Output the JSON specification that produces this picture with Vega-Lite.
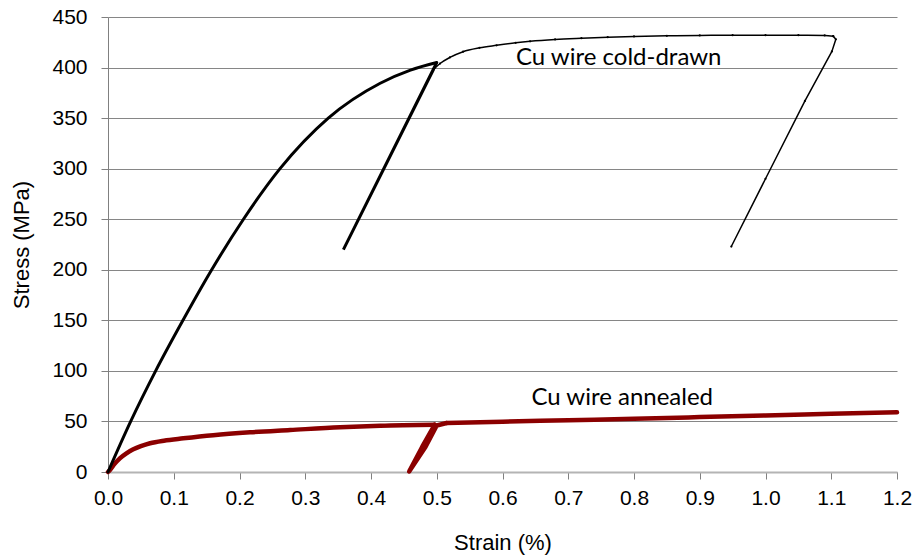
{
  "$schema": "https://vega.github.io/schema/vega-lite/v6.json",
  "width": 789,
  "height": 455,
  "autosize": {"type": "none"},
  "padding": {"left": 108, "top": 17, "right": 18, "bottom": 87},
  "background": "white",
  "config": {
    "view": {"stroke": null},
    "font": "Liberation Sans"
  },
  "datasets": {
    "annealedLoad": [
      {"strain": 0, "stress": 0},
      {"strain": 0.003, "stress": 2},
      {"strain": 0.01, "stress": 8},
      {"strain": 0.018, "stress": 13.5},
      {"strain": 0.028, "stress": 18.5},
      {"strain": 0.0385, "stress": 22.4},
      {"strain": 0.05, "stress": 25.5},
      {"strain": 0.064, "stress": 28.4},
      {"strain": 0.085, "stress": 31},
      {"strain": 0.1146, "stress": 33.3},
      {"strain": 0.16, "stress": 36.4},
      {"strain": 0.216, "stress": 39.2},
      {"strain": 0.277, "stress": 41.5},
      {"strain": 0.353, "stress": 44.3},
      {"strain": 0.414, "stress": 45.8},
      {"strain": 0.497, "stress": 46.8}
    ],
    "annealedLoop": [
      {"o": 1, "strain": 0.497, "stress": 46.8},
      {"o": 2, "strain": 0.478, "stress": 25},
      {"o": 3, "strain": 0.458, "stress": 0.5},
      {"o": 4, "strain": 0.483, "stress": 25},
      {"o": 5, "strain": 0.5, "stress": 46},
      {"o": 6, "strain": 0.515, "stress": 48.5}
    ],
    "annealedRest": [
      {"strain": 0.515, "stress": 48.5},
      {"strain": 0.6, "stress": 49.8},
      {"strain": 0.7, "stress": 51.2},
      {"strain": 0.8, "stress": 52.6},
      {"strain": 0.9, "stress": 54.3},
      {"strain": 1.0, "stress": 56},
      {"strain": 1.1, "stress": 57.5},
      {"strain": 1.2, "stress": 59}
    ],
    "coldLoad": [
      {"strain": 0, "stress": 0},
      {"strain": 0.0345, "stress": 50},
      {"strain": 0.0725, "stress": 100},
      {"strain": 0.114, "stress": 150},
      {"strain": 0.1577, "stress": 200},
      {"strain": 0.206, "stress": 250},
      {"strain": 0.2616, "stress": 300},
      {"strain": 0.335, "stress": 350},
      {"strain": 0.414, "stress": 384.5},
      {"strain": 0.46, "stress": 397.5},
      {"strain": 0.5, "stress": 405}
    ],
    "coldUnload": [
      {"o": 1, "strain": 0.5, "stress": 405},
      {"o": 2, "strain": 0.358, "stress": 220},
      {"o": 3, "strain": 0.495, "stress": 398}
    ],
    "coldPlateau": [
      {"strain": 0.495, "stress": 398},
      {"strain": 0.505, "stress": 404},
      {"strain": 0.52, "stress": 410},
      {"strain": 0.54, "stress": 415.7},
      {"strain": 0.565, "stress": 419.5},
      {"strain": 0.591, "stress": 422},
      {"strain": 0.62, "stress": 424.5},
      {"strain": 0.642, "stress": 426},
      {"strain": 0.68, "stress": 427.8},
      {"strain": 0.72, "stress": 429},
      {"strain": 0.76, "stress": 430},
      {"strain": 0.8, "stress": 430.8},
      {"strain": 0.85, "stress": 431.4},
      {"strain": 0.9, "stress": 431.8},
      {"strain": 0.95, "stress": 432},
      {"strain": 1.0, "stress": 432},
      {"strain": 1.05, "stress": 432},
      {"strain": 1.09, "stress": 431.8},
      {"strain": 1.103, "stress": 431}
    ],
    "coldFinal": [
      {"o": 1, "strain": 1.103, "stress": 431},
      {"o": 2, "strain": 1.107, "stress": 428},
      {"o": 3, "strain": 1.101, "stress": 416},
      {"o": 4, "strain": 1.06, "stress": 367},
      {"o": 5, "strain": 1.0, "stress": 290},
      {"o": 6, "strain": 0.948, "stress": 223}
    ],
    "labels": [
      {"strain": 0.6205, "stress": 403, "label": "Cu wire cold-drawn"},
      {"strain": 0.644, "stress": 66.3, "label": "Cu wire annealed"}
    ]
  },
  "encoding": {
    "x": {
      "field": "strain", "type": "quantitative",
      "scale": {"domain": [0, 1.2], "nice": false, "zero": false},
      "axis": {
        "title": "Strain (%)", "values": [0, 0.1, 0.2, 0.3, 0.4, 0.5, 0.6, 0.7, 0.8, 0.9, 1.0, 1.1, 1.2],
        "format": ".1f", "grid": false, "domainColor": "#b4b4b4", "domainWidth": 2,
        "tickColor": "#808080", "tickSize": 7, "labelPadding": 8,
        "labelFont": "Liberation Sans", "labelFontSize": 21, "labelColor": "#000000",
        "titleFont": "Liberation Sans", "titleFontSize": 22, "titleFontWeight": "normal", "titleColor": "#000000", "titlePadding": 24,
        "labelFlush": false, "labelOverlap": false
      }
    },
    "y": {
      "field": "stress", "type": "quantitative",
      "scale": {"domain": [0, 450], "nice": false},
      "axis": {
        "title": "Stress (MPa)", "values": [0, 50, 100, 150, 200, 250, 300, 350, 400, 450],
        "grid": true, "gridColor": "#868686", "gridWidth": 1,
        "domainColor": "#808080", "tickColor": "#808080", "tickSize": 7, "labelPadding": 14,
        "labelFont": "Liberation Sans", "labelFontSize": 21, "labelColor": "#000000",
        "titleFont": "Liberation Sans", "titleFontSize": 22, "titleFontWeight": "normal", "titleColor": "#000000", "titlePadding": 18,
        "labelFlush": false, "labelOverlap": false
      }
    }
  },
  "layer": [
    {
      "data": {"name": "annealedLoad"},
      "mark": {"type": "line", "color": "#8b0000", "strokeWidth": 4.5, "strokeCap": "round", "interpolate": "monotone"},
      "encoding": {}
    },
    {
      "data": {"name": "annealedLoop"},
      "mark": {"type": "line", "color": "#8b0000", "strokeWidth": 4.5, "strokeCap": "round", "strokeJoin": "round"},
      "encoding": {"order": {"field": "o", "type": "quantitative"}}
    },
    {
      "data": {"name": "annealedRest"},
      "mark": {"type": "line", "color": "#8b0000", "strokeWidth": 4.5, "strokeCap": "round", "interpolate": "monotone"},
      "encoding": {}
    },
    {
      "data": {"name": "coldLoad"},
      "mark": {"type": "line", "color": "#000000", "strokeWidth": 3, "strokeCap": "round", "interpolate": "monotone"},
      "encoding": {}
    },
    {
      "data": {"name": "coldUnload"},
      "mark": {"type": "line", "color": "#000000", "strokeWidth": 3, "strokeCap": "butt", "strokeJoin": "miter"},
      "encoding": {"order": {"field": "o", "type": "quantitative"}}
    },
    {
      "data": {"name": "coldPlateau"},
      "mark": {"type": "line", "color": "#000000", "strokeWidth": 1.5, "interpolate": "monotone", "point": {"filled": true, "size": 5, "color": "#000000"}},
      "encoding": {}
    },
    {
      "data": {"name": "coldFinal"},
      "mark": {"type": "line", "color": "#000000", "strokeWidth": 1.5, "strokeJoin": "round", "point": {"filled": true, "size": 5, "color": "#000000"}},
      "encoding": {"order": {"field": "o", "type": "quantitative"}}
    },
    {
      "data": {"name": "labels"},
      "mark": {"type": "text", "align": "left", "baseline": "alphabetic", "font": "Lato", "fontSize": 24, "color": "#000000"},
      "encoding": {"text": {"field": "label", "type": "nominal"}}
    }
  ]
}
